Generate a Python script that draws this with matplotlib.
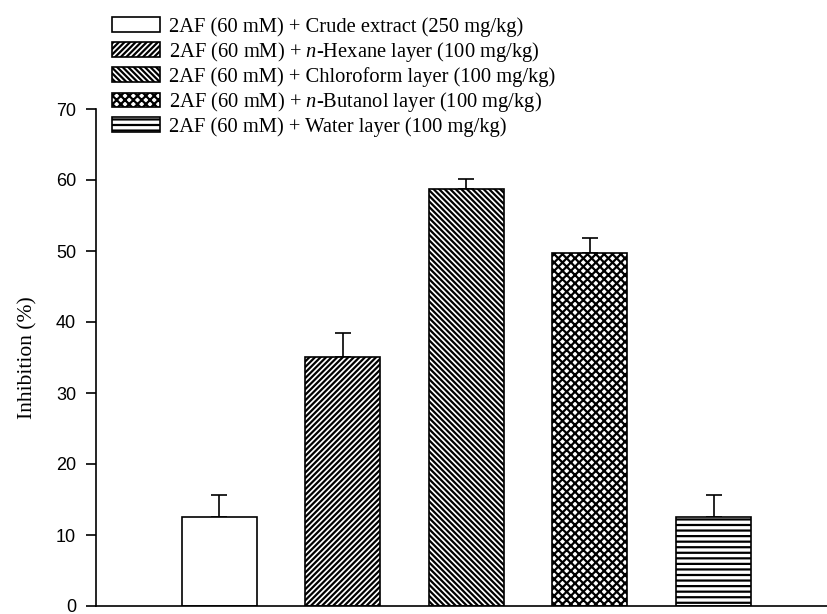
import numpy as np
import matplotlib.pyplot as plt
from matplotlib.patches import Patch

plt.rcParams['mathtext.fontset'] = 'custom'
plt.rcParams['mathtext.rm'] = 'Liberation Serif'
plt.rcParams['mathtext.it'] = 'Liberation Serif:italic'
plt.rcParams['hatch.linewidth'] = 1.6

labels = ['2AF (60 mM) + Crude extract (250 mg/kg)',
          r'2AF (60 mM) + $\it{n}$-Hexane layer (100 mg/kg)',
          '2AF (60 mM) + Chloroform layer (100 mg/kg)',
          r'2AF (60 mM) + $\it{n}$-Butanol layer (100 mg/kg)',
          '2AF (60 mM) + Water layer (100 mg/kg)']
means = [12.5, 35.1, 58.7, 49.7, 12.5]
errs = [3.1, 3.3, 1.4, 2.1, 3.1]
hatches = ['', '//////', '\\\\\\\\\\\\', 'xxxx', '---']

fig = plt.figure(figsize=(8.27, 6.14), dpi=100)
ax = fig.add_axes([95.5/827, 8/614, 741.6/827, 497/614])

xs = np.arange(1, len(means)+1)
for x, m, e, h in zip(xs, means, errs, hatches):
    ax.bar(x, m, width=0.607, color='white', edgecolor='black', linewidth=1.2, hatch=h, zorder=2)
ax.errorbar(xs, means, yerr=[[0]*len(errs), errs], fmt='none', ecolor='black',
            elinewidth=1.2, capsize=5.5, capthick=1.2, zorder=1)

ax.set_xlim(0, 6)
ax.set_ylim(0, 70)
ax.set_yticks(range(0, 71, 10))
ax.set_xticks([])
for s in ['top', 'right']:
    ax.spines[s].set_visible(False)
for s in ['left', 'bottom']:
    ax.spines[s].set_linewidth(1.2)
ax.tick_params(axis='y', direction='out', length=7, width=1.2, labelsize=13, pad=7)
for t in ax.get_yticklabels():
    t.set_family('Liberation Sans')
ax.set_ylabel('Inhibition (%)', family='Liberation Serif', fontsize=15.5, labelpad=13)

handles = [Patch(facecolor='white', edgecolor='black', linewidth=1.2, hatch=h) for h in hatches]
leg = fig.legend(handles, labels, loc='upper left', bbox_to_anchor=(111.5/827, 1 - 17/614),
                 frameon=False, prop={'family': 'Liberation Serif', 'size': 14.8},
                 handlelength=2.35, handleheight=0.7, labelspacing=0.15, handletextpad=0.45,
                 borderaxespad=0, borderpad=0)

fig.savefig('out.png', dpi=100)
